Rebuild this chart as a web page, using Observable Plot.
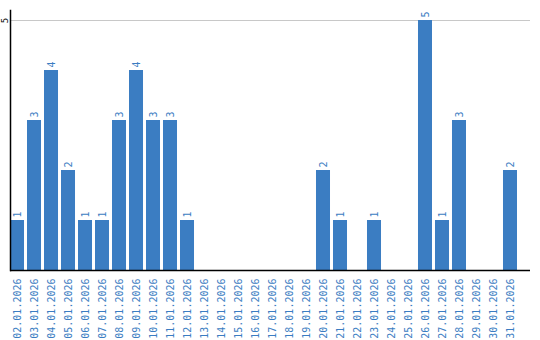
<!DOCTYPE html>
<html>
<head>
<meta charset="utf-8">
<script src="https://cdn.jsdelivr.net/npm/d3@7"></script>
<script src="https://cdn.jsdelivr.net/npm/@observablehq/plot@0.6"></script>
<style>
  html, body { margin: 0; padding: 0; background: #fff; }
  #chart svg { display: block; }
</style>
</head>
<body>
<div id="chart"></div>
<script>
const dates = ["02.01.2026","03.01.2026","04.01.2026","05.01.2026","06.01.2026","07.01.2026","08.01.2026","09.01.2026","10.01.2026","11.01.2026","12.01.2026","13.01.2026","14.01.2026","15.01.2026","16.01.2026","17.01.2026","18.01.2026","19.01.2026","20.01.2026","21.01.2026","22.01.2026","23.01.2026","24.01.2026","25.01.2026","26.01.2026","27.01.2026","28.01.2026","29.01.2026","30.01.2026","31.01.2026"];
const counts = [1,3,4,2,1,1,3,4,3,3,1,0,0,0,0,0,0,0,2,1,0,1,0,0,5,1,3,0,0,2];
const yTicks = [5];

const data = dates.map((d, i) => ({date: d, value: counts[i]}));
const blue = "#3b7dc2";
const font = "DejaVu Sans Mono, monospace";

const chart = Plot.plot({
  width: 540,
  height: 340,
  marginLeft: 10,
  marginRight: 10,
  marginTop: 10,
  marginBottom: 70,
  style: {fontFamily: font, fontSize: "10px", background: "#fff"},
  x: {domain: dates, range: [10, 517], paddingInner: 0.176, paddingOuter: 0, align: 0, round: false},
  y: {domain: [0, 5.2], axis: null},
  marks: [
    Plot.ruleY(yTicks, {stroke: "#c8c8c8", strokeWidth: 1}),
    Plot.barY(data, {x: "date", y: "value", fill: blue}),
    Plot.text(data.filter(d => d.value > 0), {
      x: "date", y: "value", text: d => String(d.value),
      rotate: -90, textAnchor: "start", dy: -3, fill: blue, fontSize: 10
    }),
    Plot.axisX({tickSize: 0, tickPadding: 8, tickRotate: -90, fill: blue, fontSize: 10, label: null}),
    Plot.text(yTicks, {
      y: d => d, text: d => String(d), frameAnchor: "left",
      rotate: -90, textAnchor: "middle", dx: -5, fill: "#000", fontSize: 9
    }),
    Plot.ruleY([0], {stroke: "#000", strokeWidth: 1.5}),
    Plot.frame({anchor: "left", stroke: "#000", strokeWidth: 1.5})
  ]
});
document.getElementById("chart").appendChild(chart);
</script>
</body>
</html>
